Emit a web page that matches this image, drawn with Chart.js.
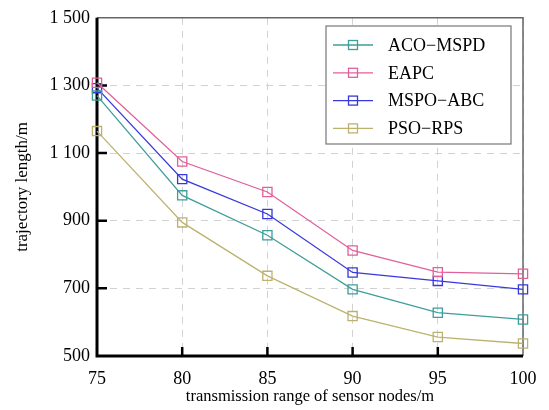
<!DOCTYPE html>
<html>
<head>
<meta charset="utf-8">
<script src="https://cdn.jsdelivr.net/npm/chart.js@4"></script>
<style>
  html, body { margin: 0; padding: 0; background: #fff; }
  #wrap { width: 549px; height: 410px; }
</style>
</head>
<body>
<div id="wrap"><canvas id="traj-chart"></canvas></div>
<script>
// transmission range (m)
const ranges = [75, 80, 85, 90, 95, 100];
// trajectory length (m) per method
const acoMspd = [1270, 975, 857, 697, 628, 608];
const eapc    = [1308, 1075, 985, 812, 748, 743];
const mspoAbc = [1292, 1023, 920, 747, 722, 697];
const psoRps  = [1165, 895, 737, 618, 556, 537];
const seriesNames = ['ACO\u2212MSPD', 'EAPC', 'MSPO\u2212ABC', 'PSO\u2212RPS'];
const yTicks = [500, 700, 900, 1100, 1300, 1500];

const colors = ['#3f9e9a', '#e0609a', '#3838dc', '#bcb270'];
const SERIF = '"Liberation Serif", "DejaVu Serif", serif';

function toPoints(vals) {
  return vals.map((v, i) => ({ x: ranges[i], y: v }));
}

function fmt(v) {
  if (v >= 1000) return Math.floor(v / 1000) + ' ' + String(v % 1000).padStart(3, '0');
  return String(v);
}

// axes, frame and the inward tick marks
const framePlugin = {
  id: 'frame',
  beforeDatasetsDraw(chart) {
    const { ctx, chartArea: a, scales } = chart;
    ctx.save();
    ctx.strokeStyle = '#666';
    ctx.lineWidth = 1.5;
    ctx.beginPath();
    ctx.moveTo(a.left, a.top);
    ctx.lineTo(a.right, a.top);
    ctx.lineTo(a.right, a.bottom);
    ctx.stroke();

    ctx.strokeStyle = '#000';
    ctx.lineWidth = 3;
    ctx.beginPath();
    ctx.moveTo(a.left, a.top);
    ctx.lineTo(a.left, a.bottom);
    ctx.lineTo(a.right, a.bottom);
    ctx.stroke();

    ctx.lineWidth = 2.5;
    ctx.beginPath();
    yTicks.slice(1, -1).forEach(v => {
      const py = scales.y.getPixelForValue(v);
      ctx.moveTo(a.left, py);
      ctx.lineTo(a.left + 10, py);
    });
    ranges.slice(1, -1).forEach(v => {
      const px = scales.x.getPixelForValue(v);
      ctx.moveTo(px, a.bottom);
      ctx.lineTo(px, a.bottom - 9);
    });
    ctx.stroke();
    ctx.restore();
  }
};

// boxed legend inside the plot
const legendPlugin = {
  id: 'boxLegend',
  afterDatasetsDraw(chart) {
    const { ctx } = chart;
    const x0 = 326, y0 = 26, w = 185, h = 118;
    ctx.save();
    ctx.fillStyle = '#fff';
    ctx.fillRect(x0, y0, w, h);
    ctx.strokeStyle = '#777';
    ctx.lineWidth = 1.2;
    ctx.strokeRect(x0, y0, w, h);
    ctx.font = '18px ' + SERIF;
    ctx.textBaseline = 'middle';
    chart.data.datasets.forEach((ds, i) => {
      const cy = y0 + 19 + i * 27.8;
      ctx.strokeStyle = ds.borderColor;
      ctx.lineWidth = 1.3;
      ctx.beginPath();
      ctx.moveTo(x0 + 7, cy);
      ctx.lineTo(x0 + 47, cy);
      ctx.stroke();
      ctx.strokeRect(x0 + 22.5, cy - 4.5, 9, 9);
      ctx.fillStyle = '#000';
      ctx.fillText(ds.label, x0 + 62, cy + 1);
    });
    ctx.restore();
  }
};

const ctx = document.getElementById('traj-chart');
const seriesVals = [acoMspd, eapc, mspoAbc, psoRps];

new Chart(ctx, {
  type: 'line',
  data: {
    datasets: seriesVals.map((vals, i) => ({
      label: seriesNames[i],
      data: toPoints(vals),
      borderColor: colors[i],
      borderWidth: 1.3,
      pointStyle: 'rect',
      pointRadius: 6.5,
      pointBorderWidth: 1.3,
      pointBorderColor: colors[i],
      pointBackgroundColor: 'rgba(255,255,255,0)',
      tension: 0,
      clip: false
    }))
  },
  options: {
    responsive: true,
    maintainAspectRatio: false,
    animation: false,
    layout: { padding: { left: 0, right: 26, top: 15, bottom: 0 } },
    plugins: {
      legend: { display: false },
      tooltip: { enabled: false }
    },
    scales: {
      x: {
        type: 'linear',
        min: 75,
        max: 100,
        afterFit(scale) { scale.height = 54; },
        afterBuildTicks(scale) { scale.ticks = ranges.map(v => ({ value: v })); },
        grid: { color: '#d2d2d2', lineWidth: 1, drawTicks: false },
        border: { display: false, dash: [7, 6] },
        ticks: {
          padding: 12,
          color: '#000',
          maxRotation: 0,
          font: { family: SERIF, size: 18 }
        },
        title: {
          display: true,
          text: 'transmission range of sensor nodes/m',
          color: '#000',
          font: { family: SERIF, size: 16.5 },
          padding: { top: 0, bottom: 3 }
        }
      },
      y: {
        min: 500,
        max: 1500,
        afterFit(scale) { scale.width = 97; },
        afterBuildTicks(scale) { scale.ticks = yTicks.map(v => ({ value: v })); },
        grid: { color: '#d2d2d2', lineWidth: 1, drawTicks: false },
        border: { display: false, dash: [7, 6] },
        ticks: {
          padding: 7,
          color: '#000',
          font: { family: SERIF, size: 18 },
          callback: v => fmt(v)
        },
        title: {
          display: true,
          text: 'trajectory length/m',
          color: '#000',
          font: { family: SERIF, size: 17 },
          padding: { top: 12, bottom: 0 }
        }
      }
    }
  },
  plugins: [framePlugin, legendPlugin]
});
</script>
</body>
</html>
